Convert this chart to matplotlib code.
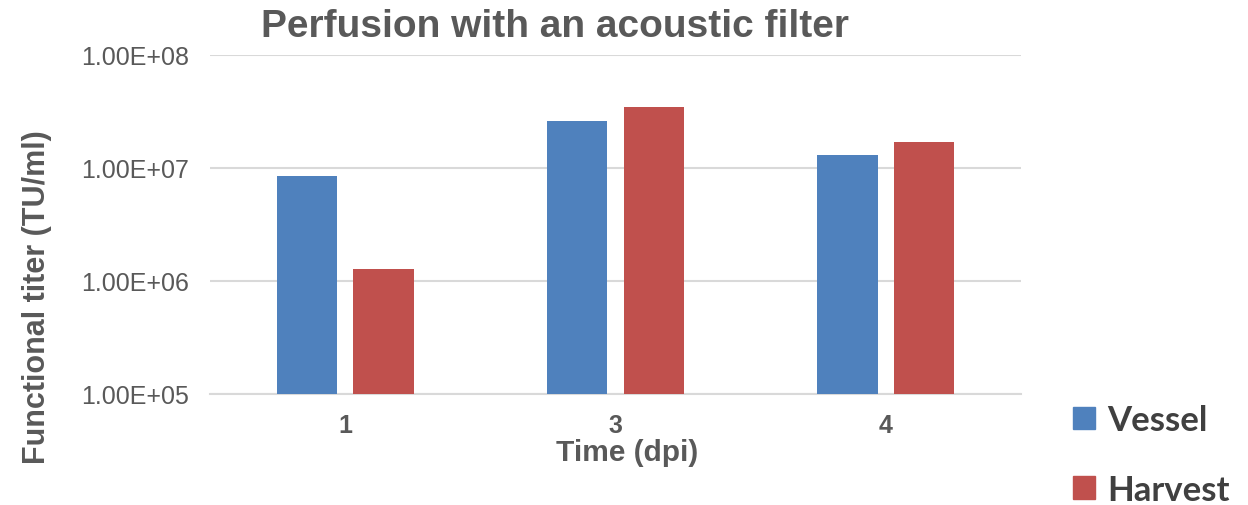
import numpy as np
import matplotlib
matplotlib.use("Agg")
import matplotlib.pyplot as plt
from matplotlib.patches import Patch

# data
days = ["1", "3", "4"]
vessel = [8.3e6, 2.6e7, 1.28e7]
harvest = [1.18e6, 3.4e7, 1.66e7]

blue = "#4f81bd"
red = "#c0504d"
grey = "#595959"

plt.rcParams["font.family"] = ["Liberation Sans", "DejaVu Sans"]

fig = plt.figure(figsize=(12.48, 5.06), dpi=100)
ax = fig.add_axes([0.1683, 0.22, 0.6497, 0.67])

x = np.arange(len(days))
w = 0.224
off = 0.142
ax.bar(x - off, vessel, w, color=blue, bottom=1e5, zorder=3)
ax.bar(x + off, harvest, w, color=red, bottom=1e5, zorder=3)

ax.set_yscale("log")
ax.set_ylim(1e5, 1e8)
ax.set_xlim(-0.5, len(days) - 0.5)
ax.set_yticks([1e5, 1e6, 1e7, 1e8])
ax.set_yticklabels(["1.00E+05", "1.00E+06", "1.00E+07", "1.00E+08"])
ax.yaxis.set_minor_locator(matplotlib.ticker.NullLocator())
ax.set_xticks(x)
ax.set_xticklabels(days, fontweight="bold")
ax.tick_params(axis="y", length=0, pad=15, labelsize=18, labelcolor=grey)
ax.tick_params(axis="x", length=0, pad=14, labelsize=18, labelcolor=grey)

ax.grid(axis="y", color="#d9d9d9", linewidth=1.5, zorder=0)
for s in ["top", "right", "left"]:
    ax.spines[s].set_visible(False)
ax.spines["bottom"].set_color("#d9d9d9")
ax.spines["bottom"].set_linewidth(1.5)

fig.text(0.5024, 0.104, "Time (dpi)", fontsize=21.5, fontweight="bold",
         color=grey, ha="center", va="center")
fig.text(0.030, 0.412, "Functional titer (TU/ml)", rotation=90, fontsize=22,
         fontweight="bold", color=grey, ha="center", va="center")
fig.text(0.4447, 0.947, "Perfusion with an acoustic filter", fontsize=28,
         fontweight="bold", color=grey, ha="center", va="center")

handles = [Patch(color=blue, label="Vessel"), Patch(color=red, label="Harvest")]
leg = fig.legend(handles=handles, loc="center left", bbox_to_anchor=(0.846, 0.099),
                 frameon=False, borderpad=0, handlelength=0.62, handleheight=0.62,
                 handletextpad=0.35, labelspacing=1.08,
                 prop={"family": "Lato", "size": 25, "weight": "bold"})
for t in leg.get_texts():
    t.set_color("#404040")

fig.savefig("out.png", dpi=100)
